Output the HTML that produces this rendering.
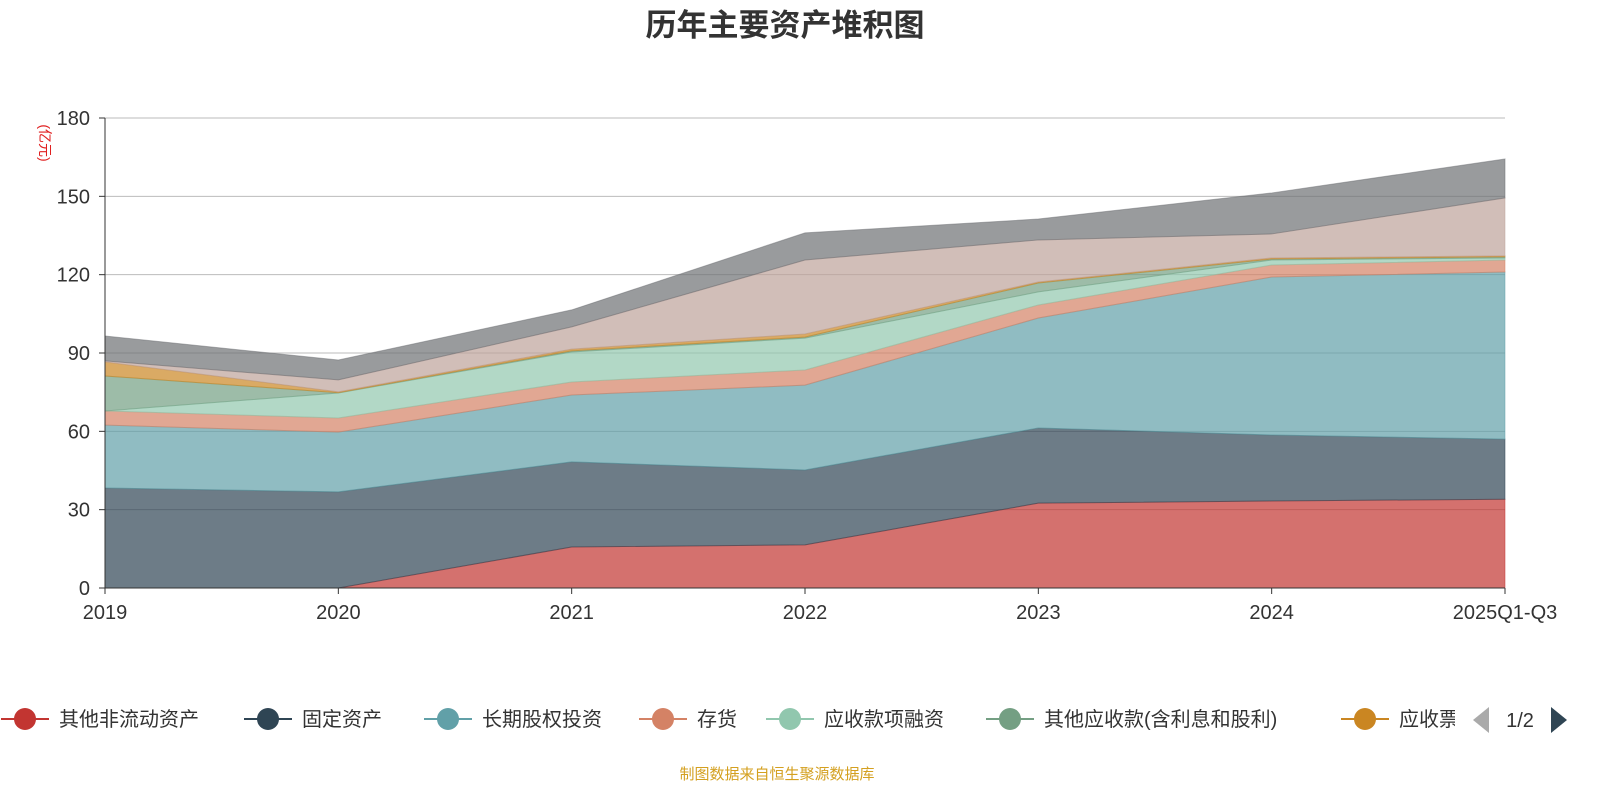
<!DOCTYPE html>
<html><head><meta charset="utf-8"><style>
html,body{margin:0;padding:0;background:#fff;width:1600px;height:800px;overflow:hidden}
text{font-family:"Liberation Sans","Noto Sans CJK SC",sans-serif}
</style></head><body>
<svg id="chart" width="1600" height="800" xmlns="http://www.w3.org/2000/svg">
<text x="785" y="36" text-anchor="middle" font-size="31" font-weight="bold" fill="#333">历年主要资产堆积图</text>
<text transform="translate(40,143) rotate(90)" text-anchor="middle" font-size="14" fill="#e02020">(亿元)</text>
<g id="grid"></g><g id="areas"></g><g id="axes"></g><g id="legend"></g>
<text x="777" y="779" text-anchor="middle" font-size="15" fill="#d4a020">制图数据来自恒生聚源数据库</text>
</svg>
<script>
const categories=["2019","2020","2021","2022","2023","2024","2025Q1-Q3"];
const seriesNames=["其他非流动资产","固定资产","长期股权投资","存货","应收款项融资","其他应收款(含利息和股利)","应收票据","货币资金","其他"];
const s1=[0,0,15.7,16.5,32.5,33.3,34];
const s2=[38.3,36.8,32.6,28.7,28.8,25.3,23];
const s3=[24.1,22.9,25.6,32.5,42.1,60.5,64];
const s4=[5.4,5.4,5,5.8,5,4.6,4.6];
const s5=[0,9.6,11.5,12.2,5,1.9,0.8];
const s6=[13.4,0.1,0.4,0.4,3.4,0.4,0.4];
const s7=[5.4,0.3,0.7,1.2,0.4,0.4,0.4];
const s8=[0.4,4.6,8.5,28.3,16.1,9.2,22.2];
const s9=[9.5,7.6,6.5,10.4,8,15.7,14.9];
const yTicks=[0,30,60,90,120,150,180];
const series=[s1,s2,s3,s4,s5,s6,s7,s8,s9];
const colors=["#c23531","#2f4554","#61a0a8","#d48265","#91c7ae","#749f83","#ca8622","#bda29a","#6e7074"];
const NS="http://www.w3.org/2000/svg";
const X0=105,X1=1505,Y0=588,Y1=118;
const xs=i=>X0+(X1-X0)*i/(categories.length-1);
const ys=v=>Y0-(Y0-Y1)*v/180;
function mk(t,a,p){const e=document.createElementNS(NS,t);for(const k in a)e.setAttribute(k,a[k]);p.appendChild(e);return e;}
const grid=document.getElementById('grid'),axes=document.getElementById('axes'),areas=document.getElementById('areas'),leg=document.getElementById('legend');
yTicks.forEach(v=>{
 if(v>0){const l=mk('line',{x1:X0,x2:X1,y1:ys(v),y2:ys(v),stroke:'#bbb','stroke-width':1},grid);
 
 }
 const t=mk('text',{x:X0-15,y:ys(v)+7,'text-anchor':'end','font-size':20,fill:'#333'},axes);t.textContent=v;
 
 
 mk('line',{x1:X0-6,x2:X0,y1:ys(v),y2:ys(v),stroke:'#333'},axes);
});
let cum=categories.map(()=>0);
series.forEach((s,si)=>{
 const lower=cum.slice();cum=cum.map((c,i)=>c+s[i]);
 let d='M'+categories.map((c,i)=>xs(i)+','+ys(cum[i])).join(' L');
 for(let i=categories.length-1;i>=0;i--)d+=' L'+xs(i)+','+ys(lower[i]);
 const p=mk('path',{d:d+'Z',fill:colors[si],'fill-opacity':0.7,stroke:colors[si],'stroke-opacity':0.5,'stroke-width':1},areas);
 
 
});
mk('line',{x1:X0,x2:X0,y1:Y1,y2:Y0,stroke:'#333'},axes);
mk('line',{x1:X0,x2:X1,y1:Y0,y2:Y0,stroke:'#333'},axes);
categories.forEach((c,i)=>{
 mk('line',{x1:xs(i),x2:xs(i),y1:Y0,y2:Y0+6,stroke:'#333'},axes);
 const t=mk('text',{x:xs(i),y:Y0+31,'text-anchor':'middle','font-size':20,fill:'#333'},axes);t.textContent=c;
 
 
});
const lx=[25,268,448,663,790,1010,1365];
for(let i=0;i<7;i++){
 const g=mk('g',{},leg);
 
 
 mk('line',{x1:lx[i]-24,x2:lx[i]+24,y1:719,y2:719,stroke:colors[i],'stroke-width':2},g);
 mk('circle',{cx:lx[i],cy:719,r:11,fill:colors[i]},g);
 const t=mk('text',{x:lx[i]+34,y:726,'font-size':20,fill:'#333'},g);t.textContent=seriesNames[i];
}
const cp=mk('clipPath',{id:'lc'},leg);mk('rect',{x:0,y:690,width:1455,height:60},cp);
leg.lastElementChild.previousSibling&&0;
leg.querySelectorAll('g')[6].setAttribute('clip-path','url(#lc)');
const pl=mk('path',{d:'M1489,707 L1489,733 L1473,720Z',fill:'#aaa'},leg);


const pt=mk('text',{x:1520,y:727,'text-anchor':'middle','font-size':20,fill:'#333'},leg);pt.textContent='1/2';


const pr=mk('path',{d:'M1551,707 L1551,733 L1567,720Z',fill:'#2f4554'},leg);


</script>
</body></html>
